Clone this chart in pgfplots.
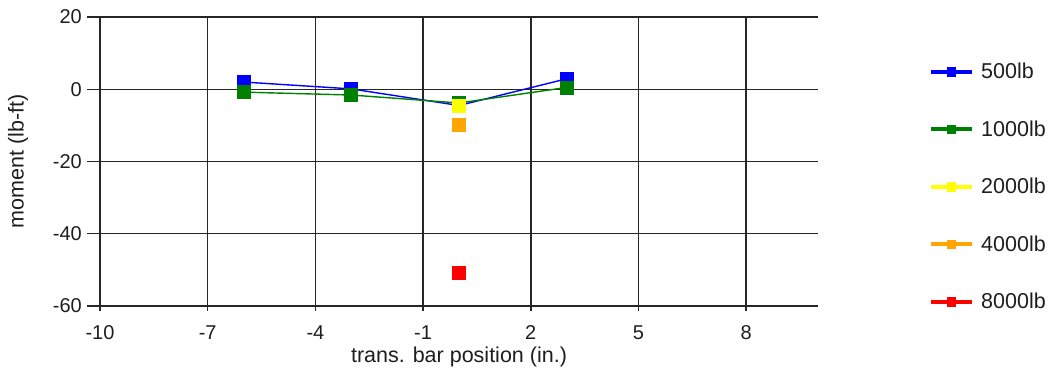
\documentclass[border=0pt]{standalone}
\usepackage{pgfplots}
\pgfplotsset{compat=1.18}
\usepackage{fontspec}
\setmainfont{Liberation Sans}
\definecolor{cblue}{RGB}{0,0,255}
\definecolor{cgreen}{RGB}{0,128,0}
\definecolor{cyellow}{RGB}{255,255,0}
\definecolor{corange}{RGB}{255,165,0}
\definecolor{cred}{RGB}{255,0,0}
\definecolor{txt}{RGB}{30,30,30}
\begin{document}
\fontsize{20}{24}\selectfont
\begin{tikzpicture}
\useasboundingbox (-100pt,-73pt) rectangle (952pt,306pt);
\begin{axis}[
  at={(0pt,0pt)}, anchor=south west,
  scale only axis, width=718pt, height=289pt,
  xmin=-10, xmax=10, ymin=-60, ymax=20,
  xtick={-10,-7,-4,-1,2,5,8}, ytick={-60,-40,-20,0,20},
  axis x line*=bottom, axis y line*=left,
  axis line style={black!85, line width=1.5pt, -},
  grid=major, major grid style={black!85, line width=1.5pt},
  tick style={black!85, line width=1.5pt},
  tick align=outside, major tick length=5pt,
  /pgf/number format/assume math mode=true,
  tick label style={font=\fontsize{20}{24}\selectfont, text=txt},
  xticklabel style={yshift=-8pt},
  yticklabel style={xshift=-6.3pt},
  label style={font=\fontsize{21.5}{25}\selectfont, text=txt},
  xlabel={trans. bar position (in.)},
  ylabel={moment (lb-ft)},
  xlabel style={at={(axis description cs:0.5,-0.1765)}, anchor=center},
  ylabel style={at={(axis description cs:-0.1142,0.5)}, anchor=center},
  clip=false,
  legend style={draw=none, fill=none, at={(axis description cs:1.1504,0.4118)}, anchor=west,
    font=\fontsize{21.5}{25}\selectfont, text=txt, row sep=43.5pt,
    nodes={inner sep=0pt, text height=14pt, text depth=0pt}},
  legend cell align=left,
  legend image code/.code={
    \draw[#1, line width=4pt, mark=none] (0pt,0pt) -- (41pt,0pt);
    \fill[#1] (20.5pt,0pt) +(-4pt,-4pt) rectangle +(4pt,4pt);
  },
  every axis plot/.append style={line width=1.4pt, mark=square*, mark size=6.5pt, mark options={solid, line width=0.8pt}},
]
\pgfplotsinvokeforeach{-60,-40,-20,0,20}{
  \draw[black!85, line width=1.5pt] (axis cs:-10,#1) -- ++(-13pt,0pt);
}
\addplot[color=cblue] coordinates {(-6,2.0) (-3,0.1) (0,-4.5) (3,2.9)};
\addlegendentry{\hspace{7pt}500lb}
\addplot[color=cgreen] coordinates {(-6,-0.8) (-3,-1.6) (0,-3.8) (3,0.5)};
\addlegendentry{\hspace{7pt}1000lb}
\addplot[color=cyellow] coordinates {(0,-4.6)};
\addlegendentry{\hspace{7pt}2000lb}
\addplot[color=corange] coordinates {(0,-9.9)};
\addlegendentry{\hspace{7pt}4000lb}
\addplot[color=cred] coordinates {(0,-50.8)};
\addlegendentry{\hspace{7pt}8000lb}
\end{axis}
\end{tikzpicture}
\end{document}
